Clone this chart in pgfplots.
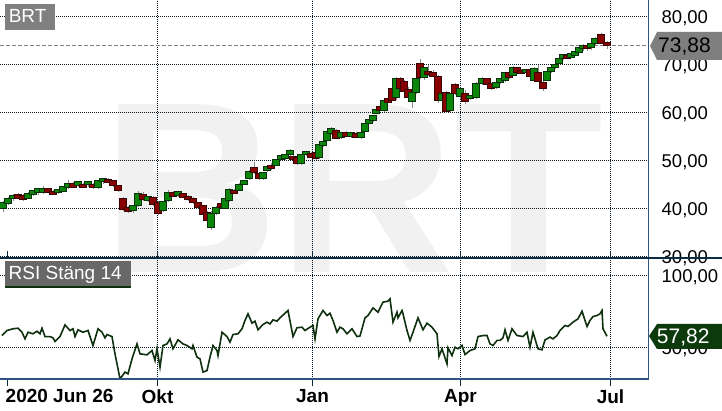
\documentclass[border=0pt]{standalone}
\usepackage{fontspec}
\setmainfont{Liberation Sans}
\usepackage{pgfplots}
\pgfplotsset{compat=1.18}
\usepackage{pgfplotstable}

\definecolor{upfill}{HTML}{0B860B}
\definecolor{upline}{HTML}{0A320A}
\definecolor{dnfill}{HTML}{880000}
\definecolor{dnline}{HTML}{380404}
\definecolor{wickc}{HTML}{8C8C8C}
\definecolor{gridc}{HTML}{081A28}
\definecolor{framec}{HTML}{2E5680}
\definecolor{splitc}{HTML}{0B2C42}
\definecolor{rsic}{HTML}{0F300F}
\definecolor{wmark}{HTML}{F1F1F1}
\definecolor{tagbrt}{HTML}{808080}
\definecolor{tagrsi}{HTML}{686868}
\definecolor{lastc}{HTML}{7F7F7F}
\definecolor{rsitag}{HTML}{0D3A0D}

% candle mark, drawn at (x, open); price axis is 4.8pt per unit
\pgfdeclareplotmark{candle}{%
  \pgfsetlinewidth{1pt}%
  \pgfsetstrokecolor{wickc}%
  \pgfpathmoveto{\pgfpoint{0pt}{\wicklo pt}}%
  \pgfpathlineto{\pgfpoint{0pt}{\wickhi pt}}%
  \pgfusepath{stroke}%
  \ifdim\bodyh pt<0pt
    \pgfsetfillcolor{dnfill}\pgfsetstrokecolor{dnline}%
    \pgfmathsetmacro\bh{min(\bodyh,-3.5)}%
  \else
    \pgfsetfillcolor{upfill}\pgfsetstrokecolor{upline}%
    \pgfmathsetmacro\bh{max(\bodyh,3.5)}%
  \fi
  \pgfpathrectangle{\pgfpoint{-3.25pt}{0pt}}{\pgfpoint{6.5pt}{\bh pt}}%
  \pgfusepath{fill,stroke}%
}

% x = position on the time axis (Jun 2020 .. Jul 2021)
\pgfplotstableread{
x o h l c
3 40.0 41.6 39.3 41.3
8 41.1 42.4 40.8 42.1
13 42.0 43.0 41.6 42.8
18 42.9 43.3 42.2 42.6
23 42.7 43.1 41.6 42.1
28 42.1 43.4 41.9 43.1
33 43.0 43.8 42.6 43.5
38 43.4 44.0 42.9 43.6
43 43.4 44.6 43.0 44.2
48 44.1 44.3 43.2 43.5
53 43.6 43.9 42.9 43.3
58 43.3 43.9 43.0 43.7
63 43.6 44.7 43.4 44.5
68 44.3 46.0 44.0 45.3
73 45.2 45.5 44.5 44.8
78 44.8 45.4 44.4 45.1
83 45.1 45.4 44.6 44.8
88 44.9 45.3 44.5 45.0
93 45.1 45.3 44.0 44.4
98 44.3 46.0 44.0 45.8
103 45.6 46.3 45.2 46.1
108 46.1 46.4 45.3 45.5
113 45.8 46.0 44.5 44.7
118 44.7 44.9 43.5 43.8
123 42.1 42.4 39.4 39.8
128 40.2 40.6 39.0 39.6
133 39.6 40.8 39.0 40.6
138 40.6 43.6 40.3 43.2
143 43.0 43.4 41.5 41.8
148 41.7 42.7 41.4 42.2
153 42.3 42.5 40.5 40.8
158 41.2 41.5 38.6 39.0
163 39.5 41.6 39.2 41.4
168 41.6 43.8 41.3 43.4
173 43.3 43.6 42.6 42.9
178 42.8 43.5 42.4 43.2
183 43.1 43.3 42.2 42.4
188 42.6 42.8 41.6 41.9
193 42.1 42.3 40.9 41.2
198 41.2 41.4 40.0 40.2
203 40.6 40.8 38.5 38.8
207 39.2 39.4 37.2 37.5
211 36.0 39.4 35.5 39.0
216 39.0 40.5 38.7 40.3
221 41.0 41.3 39.9 40.2
225 40.1 42.5 39.8 42.1
229 41.6 44.3 41.4 44.0
234 43.8 44.0 43.0 43.3
239 43.8 45.4 43.6 45.1
244 45.0 45.8 44.8 45.5
249 46.2 48.0 45.9 47.8
254 48.6 49.6 47.2 47.4
259 47.2 47.6 46.0 46.3
263 46.2 47.7 46.0 47.5
267 47.9 48.9 47.7 48.7
271 49.0 49.5 48.1 48.3
276 49.0 50.4 48.8 50.2
281 50.3 50.8 50.0 50.6
285 50.4 51.4 50.2 51.2
290 51.2 52.4 51.0 52.1
293 50.9 51.1 49.9 50.2
297 50.6 50.8 49.0 49.4
301 49.4 51.4 49.1 51.2
306 51.2 51.8 50.9 51.4
311 51.4 51.8 51.0 51.2
316 51.6 52.0 50.2 50.5
319 50.6 53.5 50.3 53.3
323 53.1 54.3 52.9 54.0
327 54.2 56.2 54.0 56.0
331 55.6 57.0 55.4 56.7
336 56.2 56.5 54.4 54.6
341 54.7 56.0 54.4 55.8
346 55.8 56.1 54.8 55.0
351 55.0 55.8 54.7 55.5
356 55.6 56.0 55.0 55.2
361 54.7 56.0 54.4 55.8
365 56.1 58.0 55.9 57.8
369 57.8 58.8 57.6 58.5
373 58.3 59.5 58.1 59.3
376 59.8 60.8 59.6 60.6
380 61.2 61.4 60.6 60.8
384 60.4 62.8 60.2 62.5
388 62.9 63.2 62.3 62.6
392 65.0 65.3 62.3 62.5
396 63.1 67.4 62.5 67.1
400 67.0 67.4 64.8 65.0
404 66.5 66.8 64.2 64.4
408 64.8 65.3 62.9 63.1
412 62.2 64.3 61.0 64.1
416 64.1 67.2 63.8 67.0
420 70.2 71.2 67.0 67.3
424 67.2 69.5 66.8 69.3
428 68.6 69.8 67.7 68.0
433 68.3 68.8 67.6 67.8
438 67.6 67.9 62.0 62.6
442 62.6 64.1 61.2 63.9
446 64.2 64.5 59.8 60.2
450 60.4 64.1 60.0 63.9
455 65.8 66.2 63.6 63.9
460 63.3 65.1 62.8 64.9
465 64.0 64.6 61.8 62.2
470 62.9 63.6 62.6 63.3
476 63.1 66.3 62.8 66.0
482 66.0 67.4 65.8 67.0
487 67.0 67.2 65.6 65.9
491 66.0 66.2 64.6 64.9
496 65.2 66.5 64.9 66.3
500 66.3 67.2 66.0 66.9
505 66.7 68.5 66.4 68.3
509 68.3 68.7 67.0 67.2
513 67.7 69.6 67.5 69.4
517 69.3 69.5 68.2 68.4
521 68.8 69.1 68.0 68.2
526 68.3 68.9 68.0 68.8
530 69.0 69.3 67.4 67.6
534 66.7 69.4 66.4 69.2
538 68.4 69.9 66.3 66.5
543 66.3 66.5 64.4 65.0
547 66.7 68.7 66.5 68.5
551 68.5 69.5 68.3 69.3
555 69.3 70.0 69.0 69.8
559 70.2 71.5 70.0 71.3
563 71.3 71.8 71.0 71.5
567 71.9 72.1 71.1 71.3
571 71.5 72.3 71.3 72.0
575 71.9 72.8 71.7 72.5
579 72.5 73.7 72.3 73.5
583 73.3 74.2 72.8 74.0
587 74.0 74.3 72.9 73.3
591 73.6 74.7 73.0 74.4
595 74.3 75.8 74.1 75.5
601 76.2 76.6 74.2 74.4
607 74.6 74.8 73.3 73.88
}\candles

\pgfplotstableread{
x r
2 58.3
7 61.8
13 63.0
18 63.4
22 60.6
25 56.0
28 60.6
33 59.5
37 61.3
40 59.5
42 63.4
45 57.6
50 57.6
53 56.7
55 54.2
60 57.6
65 65.7
70 61.8
73 63.0
75 57.6
78 62.3
83 60.6
88 61.8
93 51.4
98 63.0
102 60.6
105 56.7
107 59.0
112 57.6
115 45.6
120 28.2
125 32.9
128 31.7
132 42.1
137 52.5
140 45.6
147 44.9
152 47.9
155 41.0
157 49.1
160 36.3
163 51.4
167 52.5
170 56.0
173 49.1
178 55.3
183 52.5
187 51.4
192 49.1
193 51.4
197 43.3
200 42.1
203 32.9
207 34.0
210 43.3
213 51.4
217 47.9
218 44.4
222 60.6
227 57.6
230 53.7
233 59.0
238 59.5
242 63.0
245 68.8
248 73.4
252 66.9
255 68.3
258 62.3
263 66.0
267 67.6
270 66.4
273 69.2
277 68.3
280 70.6
288 75.7
293 57.6
297 63.7
302 64.1
305 61.8
310 64.1
313 65.3
315 56.0
318 69.9
323 75.7
327 72.2
330 73.8
333 68.8
337 60.6
340 64.1
343 63.0
347 59.5
352 63.0
357 57.6
360 58.0
365 70.6
368 72.2
373 77.5
378 74.5
383 81.5
388 82.2
390 83.8
393 67.6
397 74.5
398 70.6
402 75.7
403 73.4
407 61.8
410 54.9
413 60.6
418 70.6
423 62.3
427 66.9
432 64.1
437 59.5
439 43.8
442 49.1
445 42.8
447 38.7
448 49.8
452 44.4
455 50.2
458 49.1
462 51.4
465 45.1
470 47.9
475 49.1
478 57.6
483 58.3
487 58.3
490 52.5
493 51.4
497 54.9
500 54.9
503 56.7
505 62.3
508 54.9
512 63.0
517 58.3
523 57.6
527 60.6
530 50.2
533 60.6
538 49.1
542 48.4
545 55.3
550 57.2
553 56.0
557 58.3
560 61.8
565 65.3
568 64.6
573 67.6
578 69.9
582 75.2
587 64.6
590 68.8
593 71.5
597 72.2
600 73.4
602 75.7
603 63.0
607 57.82
}\rsi

\pgfplotsset{
  panel/.style={
    scale only axis, width=648pt, xmin=0, xmax=648,
    axis line style={draw=none},
    grid style={draw=gridc, line width=1pt, dash pattern=on 1pt off 1pt},
    xtick={157.5,312.5,460.5,610.5}, xmajorgrids, ymajorgrids,
    yticklabel pos=right, ytick style={draw=none},
    yticklabel style={font=\fontsize{18.5}{20}\selectfont, anchor=base west,
      inner sep=0pt, xshift=13.5pt, yshift=-6.6pt},
    /pgf/number format/.cd, fixed, fixed zerofill, precision=2, use comma,
      assume math mode=true,
  },
}

\begin{document}
\begin{tikzpicture}
\path[use as bounding box] (0,0) rectangle (722pt,411pt);

% watermark
\node[anchor=base west, inner sep=0pt, text=wmark,
  font=\fontsize{244}{244}\selectfont\bfseries] at (102pt,138pt) {BRT};

% price panel
\begin{axis}[panel, at={(0pt,152.5pt)}, anchor=south west, height=258pt,
  ymin=29.5833, ymax=83.3333, ytick={30,40,...,80},
  xticklabels={}, xtick style={draw=none}]
  \addplot[lastc, line width=1pt, dash pattern=on 4pt off 2pt, forget plot]
    coordinates {(0,73.88) (648,73.88)};
  \addplot[scatter, only marks, mark=candle,
    scatter/use mapped color={draw=black, fill=black},
    visualization depends on={4.8*(\thisrow{c}-\thisrow{o}) \as \bodyh},
    visualization depends on={4.8*(\thisrow{h}-\thisrow{o}) \as \wickhi},
    visualization depends on={4.8*(\thisrow{l}-\thisrow{o}) \as \wicklo}]
    table[x=x, y=o] \candles;
\end{axis}

% RSI panel
\begin{axis}[panel, at={(0pt,31.5pt)}, anchor=south west, height=121pt,
  ymin=27.78, ymax=111.81, ytick={50,100},
  xticklabels={Okt,Jan,Apr,Jul},
  xtick align=outside, major tick length=7pt,
  xtick style={draw=splitc, line width=1pt, solid},
  xticklabel style={font=\fontsize{19}{20}\selectfont\bfseries, anchor=north,
    inner sep=0pt, yshift=-3pt},
  extra x ticks={7.5}, extra x tick labels={2020 Jun 26},
  extra x tick style={grid=none, xticklabel style={anchor=north west, xshift=-2pt}}]
  \addplot[rsic, line width=1.6pt, mark=none] table[x=x, y=r] \rsi;
\end{axis}

% frame and divider
\draw[framec, line width=1.5pt] (0,32pt) -- (648.5pt,32pt);
\draw[framec, line width=1.5pt] (648.5pt,32pt) -- (648.5pt,411pt);
\draw[splitc, line width=2pt] (0,153pt) -- (722pt,153pt);

% tags
\fill[tagbrt] (5pt,381pt) rectangle (55pt,407pt);
\node[anchor=base west, inner sep=0pt, text=white,
  font=\fontsize{19}{20}\selectfont] at (8.6pt,388.3pt) {BRT};
\fill[tagrsi] (5pt,125pt) rectangle (131pt,150pt);
\fill[rsic] (5pt,123pt) rectangle (131pt,125pt);
\node[anchor=base west, inner sep=0pt, text=white,
  font=\fontsize{19}{20}\selectfont] at (8.5pt,131.7pt) {RSI Stäng 14};
\fill[lastc] (650pt,365pt) -- (657pt,379pt) -- (722pt,379pt) -- (722pt,351pt)
  -- (657pt,351pt) -- cycle;
\node[anchor=base west, inner sep=0pt, text=black,
  font=\fontsize{21}{22}\selectfont] at (658pt,358.3pt) {73,88};
\fill[rsitag] (649pt,75pt) -- (657pt,87pt) -- (722pt,87pt) -- (722pt,62pt)
  -- (657pt,62pt) -- cycle;
\node[anchor=base west, inner sep=0pt, text=white,
  font=\fontsize{21}{22}\selectfont] at (656.7pt,67.7pt) {57,82};
\end{tikzpicture}
\end{document}
